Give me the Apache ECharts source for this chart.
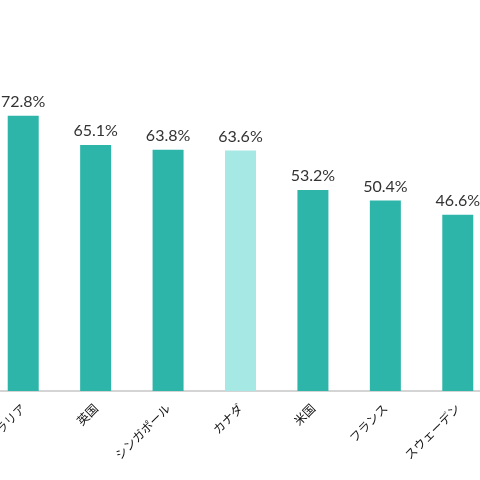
<!DOCTYPE html>
<html>
<head>
<meta charset="utf-8">
<script src="https://cdn.jsdelivr.net/npm/echarts@6/dist/echarts.min.js"></script>
<style>
  html, body { margin: 0; padding: 0; background: #fff; }
  #chart { width: 480px; height: 480px; }
</style>
</head>
<body>
<div id="chart"></div>
<script>
// 国別の値 (%)
var countries = ['オーストラリア', '英国', 'シンガポール', 'カナダ', '米国', 'フランス', 'スウェーデン'];
var rates = [72.8, 65.1, 63.8, 63.6, 53.2, 50.4, 46.6];
var highlight = 'カナダ';

var chart = echarts.init(document.getElementById('chart'));

var option = {
    animation: false,
    grid: {
        left: -13, right: -14, top: 13, bottom: 89,
        containLabel: false,
        outerBoundsMode: 'none'
    },
    xAxis: {
        type: 'category',
        data: countries,
        axisTick: { show: false },
        axisLine: { lineStyle: { color: '#d4d4d4', width: 2 } },
        axisLabel: {
            rotate: 45,
            interval: 0,
            margin: 15,
            color: '#111',
            fontSize: 12,
            fontFamily: 'Noto Sans CJK JP'
        }
    },
    yAxis: {
        type: 'value',
        min: 0,
        max: 100,
        show: false
    },
    series: [{
        type: 'bar',
        barWidth: 31,
        data: rates.map(function (v, i) {
            return {
                value: v,
                itemStyle: { color: countries[i] === highlight ? '#a6e8e3' : '#2db5aa' }
            };
        }),
        label: {
            show: true,
            position: 'top',
            distance: 6,
            formatter: '{c}%',
            color: '#333',
            fontSize: 16,
            fontWeight: 'normal',
            fontFamily: 'Lato'
        }
    }]
};

chart.setOption(option);
</script>
</body>
</html>
